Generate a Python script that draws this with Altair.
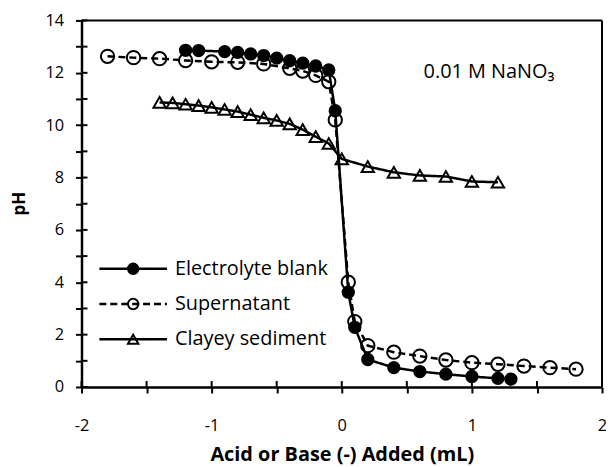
import altair as alt
import pandas as pd

names = ["Electrolyte blank", "Supernatant", "Clayey sediment"]
keys = ["blank", "super", "clay"]

blank_x = [-1.2, -1.1, -0.9, -0.8, -0.7, -0.6, -0.5, -0.4, -0.3, -0.2, -0.1, -0.05,
           0.05, 0.1, 0.2, 0.4, 0.6, 0.8, 1.0, 1.2, 1.3]
blank_ph = [12.86, 12.85, 12.81, 12.78, 12.72, 12.66, 12.56, 12.46, 12.37, 12.26, 12.11, 10.55,
            3.62, 2.28, 1.05, 0.74, 0.59, 0.49, 0.40, 0.33, 0.30]

super_x = [-1.8, -1.6, -1.4, -1.2, -1.0, -0.8, -0.6, -0.4, -0.3, -0.2, -0.1, -0.05,
           0.05, 0.1, 0.2, 0.4, 0.6, 0.8, 1.0, 1.2, 1.4, 1.6, 1.8]
super_ph = [12.63, 12.58, 12.54, 12.47, 12.42, 12.40, 12.34, 12.17, 12.07, 11.9, 11.66, 10.2,
            4.0, 2.5, 1.58, 1.33, 1.18, 1.03, 0.93, 0.87, 0.80, 0.74, 0.68]

clay_x = [-1.4, -1.3, -1.2, -1.1, -1.0, -0.9, -0.8, -0.7, -0.6, -0.5, -0.4, -0.3, -0.2, -0.1,
          0.0, 0.2, 0.4, 0.6, 0.8, 1.0, 1.2]
clay_ph = [10.87, 10.85, 10.8, 10.75, 10.68, 10.6, 10.52, 10.4, 10.28, 10.18, 10.05, 9.83, 9.56, 9.3,
           8.71, 8.42, 8.2, 8.08, 8.04, 7.85, 7.82]

x_ticks = [-2, -1.5, -1, -0.5, 0, 0.5, 1, 1.5, 2]
y_ticks = list(range(0, 15))

annotation = "0.01 M NaNO\u2083"
x_title = "Acid or Base (-) Added (mL)"
y_title = "pH"

rows = []
for name, key, xs, ys in zip(names, keys, [blank_x, super_x, clay_x], [blank_ph, super_ph, clay_ph]):
    for a, b in zip(xs, ys):
        rows.append({"x": a, "ph": b, "series": name, "key": key})
df = pd.DataFrame(rows)

W, H = 524, 369
FONT = "Open Sans"

x_scale = alt.Scale(domain=[-2, 2], nice=False, zero=False)
y_scale = alt.Scale(domain=[0, 14], nice=False, zero=False)

x_axis = alt.Axis(
    orient="bottom", values=x_ticks,
    labelExpr="datum.value % 1 == 0 ? '' + datum.value : ''",
    title=x_title, titleFont=FONT, titleFontWeight="bold", titleFontSize=20,
    titleColor="black", titlePadding=11,
    labelFont=FONT, labelFontSize=16.5, labelColor="black", labelPadding=25,
    labelFlush=False, labelOverlap=False,
    tickSize=6, tickWidth=2, tickColor="black",
    domainWidth=2.5, domainColor="black", grid=False,
)
y_axis = alt.Axis(
    orient="left", values=y_ticks,
    labelExpr="datum.value % 2 == 0 ? '' + datum.value : ''",
    title=y_title, titleFont=FONT, titleFontWeight="bold", titleFontSize=17,
    titleColor="black", titleX=-62, titleY=184, titleBaseline="middle", titleAlign="center",
    labelFont=FONT, labelFontSize=16.5, labelColor="black", labelPadding=12,
    labelFlush=False, labelOverlap=False,
    tickSize=6, tickWidth=2, tickColor="black",
    domainWidth=2.5, domainColor="black", grid=False,
)

line_legend = alt.Legend(
    title=None, orient="none", legendX=42, legendY=240, padding=0,
    symbolType="M-6.8,0H6.8", symbolSize=100, symbolStrokeWidth=2.5,
    symbolStrokeColor="black", symbolFillColor="transparent",
    labelFont=FONT, labelFontSize=20, labelColor="black", labelOffset=32,
    labelLimit=400, rowPadding=15.5,
)
marker_legend = alt.Legend(
    title=None, orient="none", legendX=42, legendY=240, padding=0,
    symbolSize=110, symbolStrokeWidth=2, symbolStrokeColor="black",
    labelFont=FONT, labelFontSize=20, labelExpr="' '", labelOffset=32,
    labelLimit=400, rowPadding=15.5,
)

# inner halves of the crossing ticks (same axes as the data layers, so they merge)
xt = alt.Chart(pd.DataFrame({"t": x_ticks})).mark_rule(color="black", strokeWidth=2).encode(
    x=alt.X("t:Q", scale=x_scale, axis=x_axis), y=alt.value(H - 6), y2=alt.value(H))
yt = alt.Chart(pd.DataFrame({"t": y_ticks})).mark_rule(color="black", strokeWidth=2).encode(
    y=alt.Y("t:Q", scale=y_scale, axis=y_axis), x=alt.value(0), x2=alt.value(6))
# frame on the top and right of the plot area
frame_top = alt.Chart(pd.DataFrame({"t": [y_ticks[-1]]})).mark_rule(color="black", strokeWidth=2).encode(
    y=alt.Y("t:Q", scale=y_scale, axis=y_axis), x=alt.value(0), x2=alt.value(W))
frame_right = alt.Chart(pd.DataFrame({"t": [0]})).mark_rule(color="black", strokeWidth=2).encode(
    x=alt.value(W), y=alt.value(0), y2=alt.value(H))

lines = alt.Chart(df).mark_line(color="black", strokeWidth=2.5).encode(
    x=alt.X("x:Q", scale=x_scale, axis=x_axis),
    y=alt.Y("ph:Q", scale=y_scale, axis=y_axis),
    strokeDash=alt.StrokeDash("series:N", scale=alt.Scale(domain=names, range=[[1, 0], [7, 4], [1, 0]]),
                              legend=line_legend),
)

points = alt.Chart(df).mark_point(strokeWidth=2, opacity=1).encode(
    x=alt.X("x:Q", scale=x_scale, axis=x_axis),
    y=alt.Y("ph:Q", scale=y_scale, axis=y_axis),
    shape=alt.Shape("key:N", scale=alt.Scale(domain=keys, range=["circle", "circle", "triangle-up"]),
                    legend=marker_legend),
    fill=alt.Fill("key:N", scale=alt.Scale(domain=keys, range=["black", "transparent", "transparent"]),
                  legend=marker_legend),
    stroke=alt.Stroke("key:N", scale=alt.Scale(domain=keys, range=["black", "black", "black"]),
                      legend=marker_legend),
    # data-derived domain (sorted: blank, clay, super) keeps this scale apart from the legend above
    size=alt.Size("key:N", scale=alt.Scale(range=[130, 180, 150]), legend=None),
)

chart = alt.layer(lines, xt, yt, frame_top, frame_right, points).properties(
    width=W, height=H,
    autosize=alt.AutoSizeParams(type="none"),
    padding={"left": 74, "top": 11, "right": 4, "bottom": 78},
    title=alt.TitleParams(annotation, anchor="end", frame="group", orient="top", offset=0,
                          dx=-48, dy=80, baseline="middle", font=FONT, fontSize=20,
                          fontWeight="normal", color="black"),
).configure_view(strokeWidth=0)

chart.save("out.html", embed_options={"renderer": "svg", "actions": False})
